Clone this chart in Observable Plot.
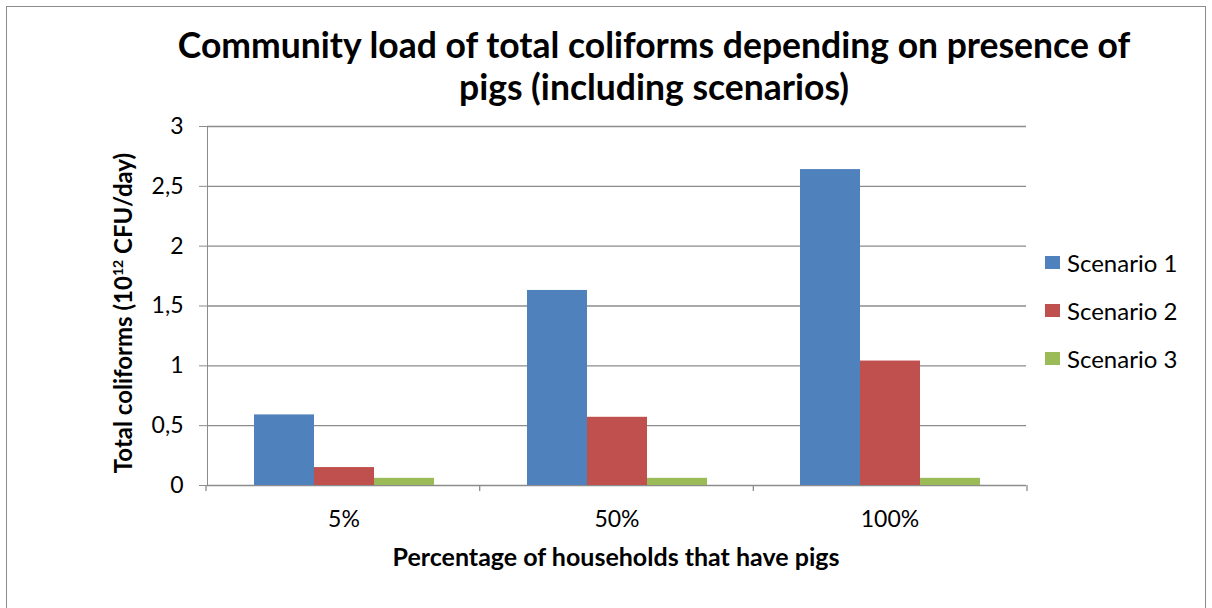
<!DOCTYPE html>
<html>
<head>
<meta charset="utf-8">
<script src="https://cdn.jsdelivr.net/npm/d3@7"></script>
<script src="https://cdn.jsdelivr.net/npm/@observablehq/plot@0.6"></script>
<style>
  html, body { margin: 0; padding: 0; background: #fff; }
  #page { position: relative; width: 1212px; height: 608px; overflow: hidden; font-family: Lato, "Open Sans", sans-serif; color: #000; }
  #border { position: absolute; left: 6px; top: 6px; width: 1198px; height: 640px; border: 1.5px solid #8c8c8c; }
  #title { position: absolute; left: 154px; width: 1000px; top: 24px; text-align: center; font-weight: 700; font-size: 35.5px; line-height: 42px; white-space: nowrap; }
  #xlabel { position: absolute; left: 316px; width: 600px; top: 544px; text-align: center; font-weight: 700; font-size: 25px; line-height: 24px; white-space: nowrap; }
  #ylabel { position: absolute; left: 123px; top: 313px; width: 500px; margin-left: -250px; margin-top: -12px; text-align: center; font-weight: 700; font-size: 24px; line-height: 24px; transform: rotate(-90deg); white-space: nowrap; }
  #ylabel sup { font-size: 14px; vertical-align: 9px; line-height: 0; }
  #legend { position: absolute; left: 1045px; top: 238px; font-size: 24px; }
  #legend .row { display: flex; align-items: center; height: 48px; white-space: nowrap; }
  #legend .sw { width: 15px; height: 13px; margin-right: 7px; }
  #chart { position: absolute; left: 0; top: 0; }
  #chart svg { color: #8c8c8c; }
  #chart svg text { fill: #000; }
</style>
</head>
<body>
<div id="page">
  <div id="border"></div>
  <div id="chart"></div>
  <div id="title">Community load of total coliforms depending on presence of<br>pigs (including scenarios)</div>
  <div id="ylabel">Total coliforms (10<sup>12</sup> CFU/day)</div>
  <div id="xlabel">Percentage of households that have pigs</div>
  <div id="legend"></div>
</div>
<script>
// Categories on the x axis and the three scenario series
const categories = ["5%", "50%", "100%"];
const scenarios = ["Scenario 1", "Scenario 2", "Scenario 3"];
const scenario1 = [0.59, 1.63, 2.64];
const scenario2 = [0.15, 0.57, 1.04];
const scenario3 = [0.06, 0.06, 0.06];
const yTicks = [0, 0.5, 1, 1.5, 2, 2.5, 3];
const colors = ["#4f81bd", "#c0504d", "#9bbb59"];

const series = [scenario1, scenario2, scenario3];
const data = categories.flatMap((category, i) =>
  scenarios.map((scenario, j) => ({category, scenario, value: series[j][i]}))
);

const plot = Plot.plot({
  width: 1212,
  height: 608,
  marginLeft: 206,
  marginRight: 185,
  marginTop: 126,
  marginBottom: 123,
  style: {fontFamily: "Lato, 'Open Sans', sans-serif", fontSize: "23px", background: "transparent", overflow: "visible"},
  facet: {data, x: "category"},
  fx: {domain: categories, paddingInner: 0, paddingOuter: 0, label: null, tickSize: 0, tickPadding: 25},
  x: {domain: scenarios, paddingInner: 0, paddingOuter: 0.744, axis: null},
  y: {domain: [0, 3], ticks: yTicks, tickFormat: d => String(d).replace(".", ","), label: null, tickSize: 8, tickPadding: 16, line: true},
  color: {domain: scenarios, range: colors},
  marks: [
    Plot.ruleY(yTicks, {stroke: "#8c8c8c", strokeWidth: 1.3}),
    Plot.barY(data, {x: "scenario", y: "value", fill: "scenario"})
  ]
});
document.getElementById("chart").appendChild(plot);

// Small category-boundary ticks below the baseline
const fx = plot.scale("fx");
const y = plot.scale("y");
const [x0, x1] = fx.range;
const base = y.range[0];
const step = (x1 - x0) / categories.length;
const svg = d3.select(plot);
svg.append("g")
  .attr("stroke", "#8c8c8c")
  .attr("stroke-width", 1.3)
  .selectAll("line")
  .data(d3.range(categories.length + 1))
  .join("line")
  .attr("x1", i => x0 + i * step)
  .attr("x2", i => x0 + i * step)
  .attr("y1", base)
  .attr("y2", base + 6);

// Legend
const legend = d3.select("#legend");
scenarios.forEach((s, i) => {
  const row = legend.append("div").attr("class", "row");
  row.append("div").attr("class", "sw").style("background", colors[i]);
  row.append("span").text(s);
});
</script>
</body>
</html>
